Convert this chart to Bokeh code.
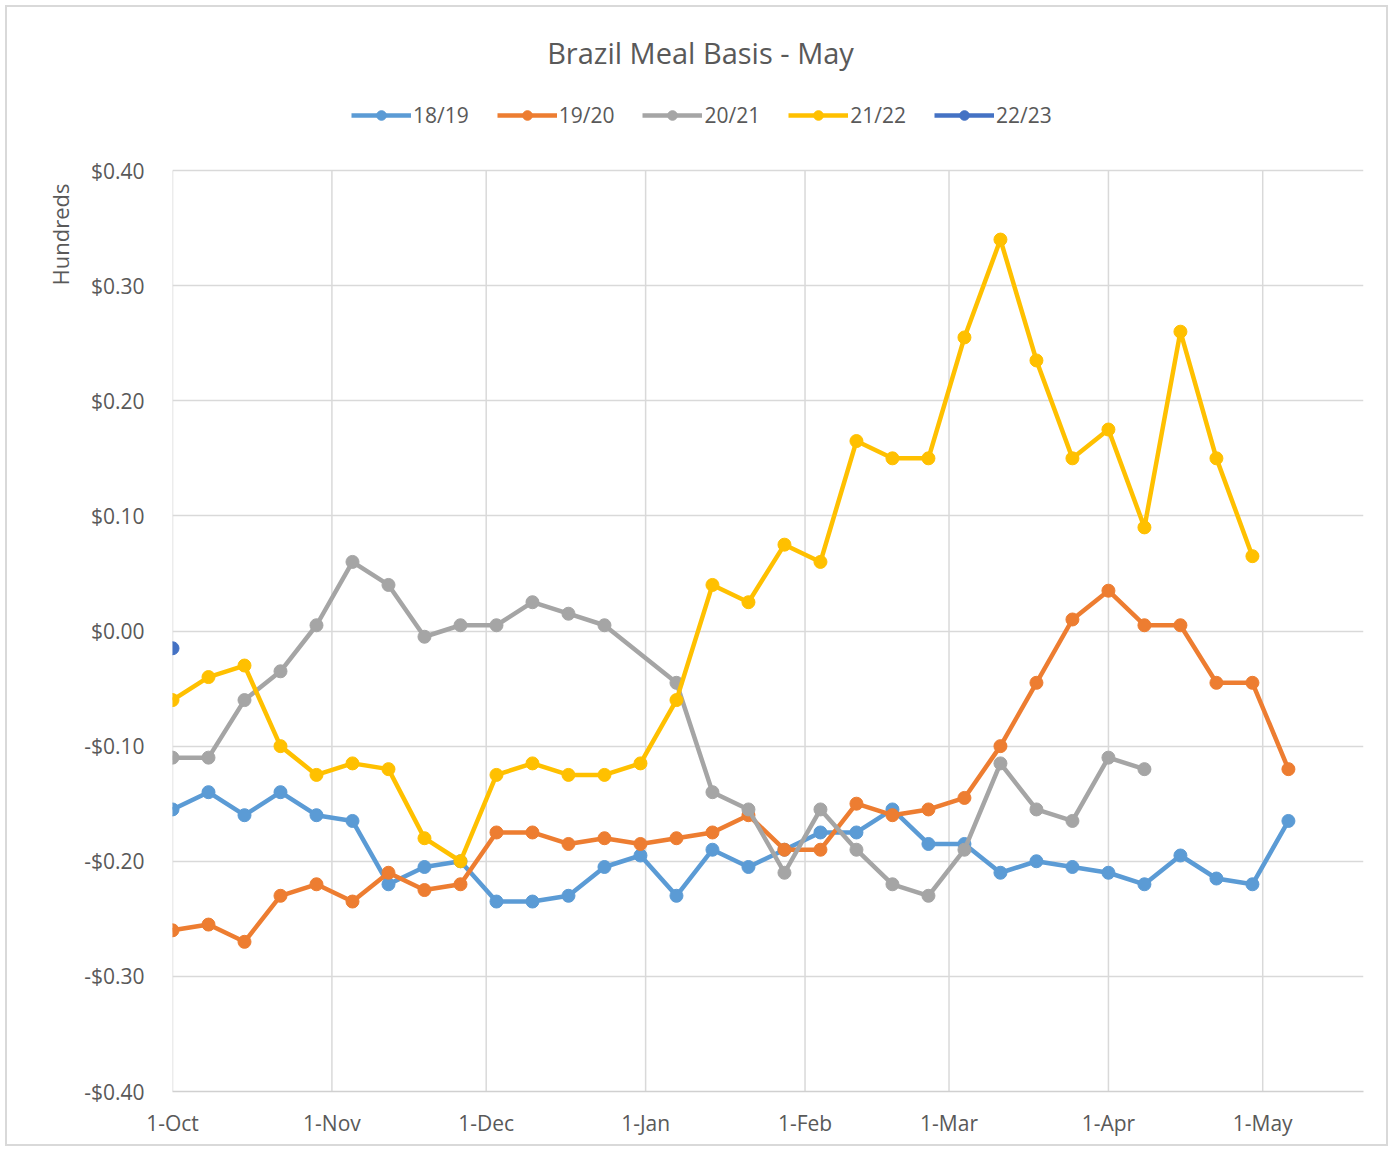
import numpy as np
import pandas as pd
from datetime import datetime, timedelta
from bokeh.plotting import figure
from bokeh.models import (Range1d, FixedTicker, CustomJSTickFormatter, Title, Label,
                          Legend, LegendItem, ColumnDataSource)
from bokeh.embed import file_html
from bokeh.resources import INLINE

# ---------------- data ----------------
weeks = list(pd.date_range("2021-10-01", periods=32, freq="7D"))

s_1819 = [-0.155, -0.14, -0.16, -0.14, -0.16, -0.165, -0.22, -0.205, -0.20, -0.235,
          -0.235, -0.23, -0.205, -0.195, -0.23, -0.19, -0.205, -0.19, -0.175, -0.175,
          -0.155, -0.185, -0.185, -0.21, -0.20, -0.205, -0.21, -0.22, -0.195, -0.215,
          -0.22, -0.165]
s_1920 = [-0.26, -0.255, -0.27, -0.23, -0.22, -0.235, -0.21, -0.225, -0.22, -0.175,
          -0.175, -0.185, -0.18, -0.185, -0.18, -0.175, -0.16, -0.19, -0.19, -0.15,
          -0.16, -0.155, -0.145, -0.10, -0.045, 0.01, 0.035, 0.005, 0.005, -0.045,
          -0.045, -0.12]
s_2021 = [-0.11, -0.11, -0.06, -0.035, 0.005, 0.06, 0.04, -0.005, 0.005, 0.005,
          0.025, 0.015, 0.005, None, -0.045, -0.14, -0.155, -0.21, -0.155, -0.19,
          -0.22, -0.23, -0.19, -0.115, -0.155, -0.165, -0.11, -0.12]
s_2122 = [-0.06, -0.04, -0.03, -0.10, -0.125, -0.115, -0.12, -0.18, -0.20, -0.125,
          -0.115, -0.125, -0.125, -0.115, -0.06, 0.04, 0.025, 0.075, 0.06, 0.165,
          0.15, 0.15, 0.255, 0.34, 0.235, 0.15, 0.175, 0.09, 0.26, 0.15, 0.065]
s_2223 = [-0.015]

series_names = ["18/19", "19/20", "20/21", "21/22", "22/23"]
series_values = [s_1819, s_1920, s_2021, s_2122, s_2223]
series_colors = ["#5B9BD5", "#ED7D31", "#A5A5A5", "#FFC000", "#4472C4"]

month_ticks = ["2021-10-01", "2021-11-01", "2021-12-01", "2022-01-01",
               "2022-02-01", "2022-03-01", "2022-04-01", "2022-05-01"]
y_ticks = [-0.4, -0.3, -0.2, -0.1, 0.0, 0.1, 0.2, 0.3, 0.4]

FONT = "Open Sans"
TXT = "#595959"

# ---------------- figure ----------------
# frame extends to the top of the canvas so the title/legend (drawn as in-frame
# annotations) are not clipped; the value axis itself spans -0.40 .. 0.40
x0 = datetime(2021, 10, 1)
y_top = 0.4 + 163 / 1151.25
p = figure(width=1383, height=1141, x_axis_type="datetime", title=None,
           x_range=Range1d(x0, x0 + timedelta(days=231.6)),
           y_range=Range1d(-0.4, y_top),
           output_backend="svg", toolbar_location=None,
           min_border_left=165, min_border_top=0,
           min_border_right=27, min_border_bottom=57)
p.styles = {"border": "2px solid #d9d9d9", "margin-left": "5px", "margin-top": "5px"}
p.outline_line_color = None
p.background_fill_color = "white"
p.border_fill_color = "white"

tick_ms = [pd.Timestamp(t).value / 1e6 for t in month_ticks]
p.xaxis.ticker = FixedTicker(ticks=tick_ms)
p.xaxis.formatter = CustomJSTickFormatter(code="""
const m=["Jan","Feb","Mar","Apr","May","Jun","Jul","Aug","Sep","Oct","Nov","Dec"];
const d=new Date(tick); return d.getUTCDate()+"-"+m[d.getUTCMonth()];""")
p.yaxis.ticker = FixedTicker(ticks=y_ticks)
p.yaxis.formatter = CustomJSTickFormatter(code="""
if (Math.abs(tick)<1e-9) return "$0.00";
return (tick<0?"-":"")+"$"+Math.abs(tick).toFixed(2);""")

for ax in (p.xaxis[0], p.yaxis[0]):
    ax.major_label_text_font = FONT
    ax.major_label_text_font_size = "21px"
    ax.major_label_text_color = TXT
    ax.major_tick_line_color = None
    ax.minor_tick_line_color = None
p.xaxis.axis_line_color = "#d0d0d0"
p.xaxis.axis_line_width = 1.5
p.xaxis.major_label_standoff = 11
p.yaxis.axis_line_color = None
p.yaxis.major_label_standoff = 22

# horizontal grid from the axis ticker; vertical grid only over the value span
p.ygrid.ticker = FixedTicker(ticks=y_ticks)
p.ygrid.grid_line_color = "#d9d9d9"
p.ygrid.grid_line_width = 1.5
p.xgrid.visible = False
month_dt = [pd.Timestamp(t) for t in month_ticks]
p.segment(x0=month_dt, x1=month_dt, y0=[y_ticks[0]] * len(month_dt),
          y1=[y_ticks[-1]] * len(month_dt), line_color="#d9d9d9", line_width=1.5)

items = []
for name, vals, col in zip(series_names, series_values, series_colors):
    xs = [w for w, v in zip(weeks, vals) if v is not None]
    ys = [v for v in vals if v is not None]
    src = ColumnDataSource(dict(x=xs, y=ys))
    r1 = p.line("x", "y", source=src, line_color=col, line_width=4.5)
    r2 = p.scatter("x", "y", source=src, size=13, fill_color=col, line_color=col)
    items.append(LegendItem(label=name, renderers=[r1, r2]))

legend = Legend(items=items, orientation="horizontal", location=(179, 962),
                label_text_font=FONT, label_text_font_size="21px",
                label_text_color=TXT, glyph_width=60, glyph_height=24,
                label_height=24, label_standoff=2, spacing=28, padding=0,
                margin=0, border_line_color=None, background_fill_alpha=0)
p.add_layout(legend, "center")

p.add_layout(Label(x=528, y=1039, x_units="screen", y_units="screen",
                   text="Brazil Meal Basis - May", text_font=FONT,
                   text_font_size="29px", text_color=TXT,
                   text_align="center", text_baseline="middle"))
p.add_layout(Title(text="Hundreds", text_font=FONT, text_font_size="22px",
                   text_color=TXT, text_font_style="normal", align="right",
                   offset=176, standoff=14), "left")

open("out.html", "w").write(file_html(p, INLINE))
